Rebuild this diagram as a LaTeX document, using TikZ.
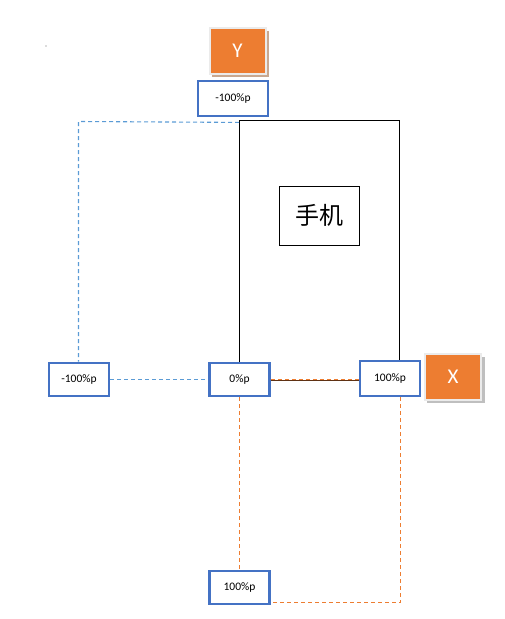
\documentclass[tikz,border=0pt]{standalone}
\usepackage{fontspec}
\setmainfont{Carlito}
\newfontfamily\cjk{Noto Sans CJK SC}
\definecolor{bborder}{HTML}{4472C4}
\definecolor{borange}{HTML}{ED7D31}
\definecolor{lblue}{HTML}{5B9BD5}
\definecolor{shadowc}{HTML}{C8A890}
\begin{document}
\begin{tikzpicture}[x=1pt,y=-1pt]
\tikzset{
  pbox/.style={draw=bborder,line width=2.8pt,fill=white,minimum width=#1,minimum height=33pt,inner sep=0pt,font=\fontsize{11.5}{12}\selectfont},
  pbox/.default=60pt,
  axbox/.style={fill=borange,draw=black!8,line width=2pt,minimum width=56pt,minimum height=46pt,inner sep=0pt,text=white,font=\fontsize{21}{22}\selectfont},
  bdash/.style={draw=lblue,dash pattern=on 4pt off 3pt,line width=1.1pt},
  odash/.style={draw=borange,dash pattern=on 4pt off 3pt,line width=1.1pt}
}
\useasboundingbox (0,0) rectangle (504,619);
\fill[black!60] (46,46) circle (0.7pt);
% phone
\draw[line width=0.9pt] (239.5,378) -- (239.5,120.5) -- (399.5,120.5) -- (399.5,378);
\node[draw,line width=0.9pt,minimum width=80pt,minimum height=59pt,inner sep=0pt,font=\cjk\fontsize{24}{26}\selectfont] (phone) at (319,215.5) {手机};
% axis boxes
\fill[shadowc] (212,31) rectangle (269,77);
\node[axbox] (Y) at (237.5,51) {Y};
\fill[black!25] (427,357) rectangle (485,403);
\node[axbox] (X) at (453,377) {X};
% coordinates
\node[pbox=70pt,minimum height=35pt] (top) at (233,98.5) {-100\%p};
\node[pbox] (left) at (79,379.5) {-100\%p};
\node[pbox] (zero) at (239.5,379.5) {0\%p};
\node[pbox,minimum height=35pt] (right) at (390,378.5) {100\%p};
\node[pbox] (bottom) at (239.5,587.5) {100\%p};
\coordinate (bl) at (78.5,121.5);
\coordinate (br) at (400.5,602.5);
% blue dashed
\draw[bdash] (top.south) ++(6,5) -- (bl) -- (left.north -| bl);
\draw[bdash] (left.east) -- (zero.west);
% orange dashed
\draw[odash] (zero.south) -- (bottom.north);
\draw[odash] (zero.east) -- (right.west |- zero.east);
\draw[black!60!borange,line width=0.9pt] ([yshift=-1pt]zero.east) -- ([yshift=-1pt]right.west |- zero.east);
\draw[odash] (right.south -| br) -- (br) -- (bottom.east |- br);
\end{tikzpicture}
\end{document}
